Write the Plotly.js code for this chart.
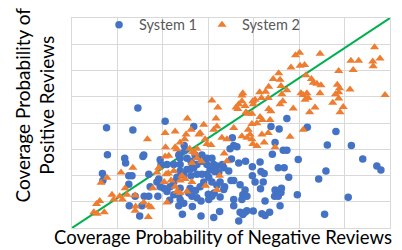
<!DOCTYPE html>
<html>
<head>
<meta charset="utf-8">
<script src="https://cdn.plot.ly/plotly-3.0.1.min.js"></script>
<style>
html,body{margin:0;padding:0;background:#fff;}
#chart{width:402px;height:250px;}
</style>
</head>
<body>
<div id="chart"></div>
<script>
// System 1 (blue circles)
const sys1X = [0.145,0.076,0.134,0.205,0.268,0.078,0.116,0.118,0.158,0.156,0.067,0.068,0.125,0.132,0.125,0.169,0.194,0.196,
0.473,0.518,0.581,0.562,0.615,0.640,0.671,0.680,0.543,0.559,0.498,0.608,0.556,0.496,0.477,0.438,0.456,0.447,0.441,0.465,0.473,
0.454,0.467,0.414,0.416,0.423,0.397,0.397,0.403,0.421,0.415,0.382,0.367,0.353,0.348,0.356,0.363,0.351,0.334,0.345,0.350,0.356,
0.370,0.381,0.376,0.385,0.374,0.356,0.356,0.370,0.381,0.385,0.376,0.367,0.399,0.418,0.425,0.435,0.425,0.446,0.454,0.460,0.447,
0.458,0.461,0.325,0.312,0.284,0.265,0.243,0.300,0.313,0.326,0.334,0.336,0.319,0.326,0.308,0.301,0.297,0.304,0.312,0.319,0.331,
0.323,0.314,0.297,0.286,0.275,0.268,0.262,0.253,0.238,0.238,0.246,0.262,0.275,0.286,0.290,0.282,0.272,0.260,0.257,0.264,0.275,
0.284,0.301,0.308,0.238,0.235,0.238,0.235,0.246,0.224,0.215,0.209,0.202,0.194,0.189,0.172,0.169,0.159,0.154,0.149,0.139,0.126,
0.231,0.224,0.216,0.247,0.249,0.238,0.235,0.238,0.253,0.262,0.271,0.286,0.297,0.308,0.224,0.209,0.191,0.187];
const sys1Y = [0.457,0.382,0.373,0.407,0.387,0.279,0.266,0.248,0.278,0.272,0.208,0.181,0.199,0.199,0.167,0.205,0.260,0.242,
0.417,0.384,0.368,0.316,0.314,0.263,0.236,0.221,0.187,0.217,0.261,0.117,0.052,0.127,0.193,0.387,0.377,0.326,0.281,0.296,0.296,
0.230,0.230,0.251,0.215,0.208,0.233,0.199,0.175,0.175,0.150,0.254,0.248,0.344,0.302,0.314,0.310,0.263,0.230,0.217,0.181,0.181,
0.165,0.145,0.127,0.121,0.109,0.109,0.085,0.060,0.060,0.066,0.051,0.027,0.065,0.054,0.048,0.060,0.103,0.121,0.121,0.135,0.145,
0.085,0.151,0.063,0.040,0.046,0.082,0.052,0.129,0.133,0.118,0.147,0.157,0.163,0.175,0.175,0.193,0.205,0.223,0.242,0.236,0.242,
0.211,0.215,0.242,0.254,0.242,0.230,0.227,0.223,0.242,0.217,0.202,0.199,0.205,0.205,0.175,0.157,0.143,0.151,0.133,0.121,0.115,
0.103,0.109,0.121,0.151,0.127,0.109,0.085,0.094,0.127,0.106,0.139,0.151,0.157,0.121,0.157,0.121,0.121,0.085,0.046,0.121,0.085,
0.193,0.175,0.157,0.314,0.296,0.284,0.278,0.266,0.266,0.254,0.278,0.278,0.266,0.266,0.242,0.242,0.187,0.175];

// System 2 (orange triangles)
const sys2X = [0.666,0.678,0.662,0.663,0.614,0.631,0.619,0.587,0.689,0.612,0.584,0.589,0.587,0.580,0.587,0.574,0.597,0.590,
0.546,0.501,0.492,0.482,0.502,0.512,0.515,0.527,0.531,0.539,0.548,0.546,0.517,0.509,0.504,0.513,0.520,0.535,0.523,0.509,0.480,
0.487,0.473,0.462,0.460,0.455,0.458,0.443,0.433,0.426,0.413,0.417,0.403,0.398,0.399,0.376,0.374,0.367,0.374,0.361,0.365,0.381,
0.383,0.387,0.396,0.414,0.419,0.407,0.396,0.388,0.392,0.385,0.396,0.398,0.407,0.418,0.423,0.432,0.436,0.433,0.438,0.458,0.464,
0.447,0.432,0.308,0.321,0.317,0.254,0.290,0.282,0.279,0.262,0.251,0.248,0.227,0.205,0.206,0.166,0.227,0.231,0.238,0.259,0.266,
0.275,0.293,0.297,0.306,0.312,0.319,0.330,0.341,0.356,0.374,0.335,0.341,0.325,0.319,0.294,0.264,0.253,0.231,0.238,0.227,0.238,
0.242,0.249,0.224,0.212,0.205,0.213,0.191,0.187,0.178,0.134,0.117,0.105,0.111,0.121,0.139,0.088,0.092,0.064,0.077,0.108,0.054,
0.061,0.048,0.055,0.071,0.140,0.139,0.158,0.169,0.174,0.168,0.209,0.203,0.271,0.264,0.275,0.285,0.207,0.218];
const sys2Y = [0.689,0.646,0.634,0.616,0.637,0.637,0.602,0.598,0.507,0.528,0.546,0.532,0.517,0.510,0.493,0.477,0.461,0.441,
0.664,0.668,0.658,0.611,0.618,0.621,0.582,0.568,0.553,0.550,0.544,0.513,0.513,0.507,0.513,0.489,0.495,0.459,0.441,0.374,0.348,
0.455,0.525,0.510,0.541,0.590,0.565,0.568,0.538,0.519,0.517,0.495,0.489,0.483,0.471,0.513,0.505,0.471,0.483,0.459,0.453,0.465,
0.441,0.435,0.435,0.423,0.411,0.399,0.396,0.374,0.356,0.344,0.338,0.320,0.312,0.356,0.326,0.362,0.411,0.453,0.445,0.471,0.483,
0.308,0.495,0.486,0.459,0.417,0.417,0.393,0.362,0.356,0.374,0.356,0.338,0.368,0.362,0.308,0.338,0.308,0.300,0.326,0.302,0.290,
0.302,0.338,0.320,0.316,0.374,0.387,0.344,0.338,0.381,0.350,0.284,0.254,0.199,0.145,0.161,0.175,0.139,0.139,0.133,0.157,0.181,
0.199,0.187,0.217,0.209,0.272,0.275,0.230,0.211,0.151,0.230,0.151,0.121,0.109,0.127,0.124,0.127,0.109,0.172,0.191,0.211,0.091,
0.103,0.060,0.054,0.060,0.082,0.066,0.097,0.085,0.079,0.042,0.097,0.175,0.284,0.248,0.266,0.254,0.205,0.181];

// Reference line
const refX = [0, 0.7];
const refY = [0, 0.8];

const seriesNames = ['System 1', 'System 2'];
const xTitle = 'Coverage Probability of Negative Reviews';
const yTitle = 'Coverage Probability of<br>Positive Reviews';

const font = 'Lato, "Open Sans", sans-serif';

const traces = [
  {x: refX, y: refY, mode: 'lines', line: {color: '#00B050', width: 2}, showlegend: false, hoverinfo: 'skip'},
  {x: sys1X, y: sys1Y, mode: 'markers', name: seriesNames[0], type: 'scatter',
   marker: {symbol: 'circle', size: 7.5, color: '#4472C4'}},
  {x: sys2X, y: sys2Y, mode: 'markers', name: seriesNames[1], type: 'scatter',
   marker: {symbol: 'triangle-up', size: 8, color: '#ED7D31'}}
];

const axisCommon = {
  showticklabels: false, ticks: '', showgrid: true, gridcolor: '#d9d9d9', gridwidth: 1,
  zeroline: false, showline: true, mirror: true, linecolor: '#d9d9d9', linewidth: 1, fixedrange: true
};

const layout = {
  width: 402, height: 250,
  margin: {l: 72, r: 12, t: 9, b: 22},
  paper_bgcolor: '#fff', plot_bgcolor: '#fff',
  font: {family: font, color: '#000'},
  showlegend: true,
  legend: {orientation: 'h', x: 0.085, xanchor: 'left', y: 0.968, yanchor: 'middle',
           bgcolor: 'rgba(0,0,0,0)', font: {size: 14.5, color: '#595959', family: font},
           itemwidth: 30, traceorder: 'normal'},
  xaxis: Object.assign({}, axisCommon, {range: [0, 0.7], dtick: 0.1}),
  yaxis: Object.assign({}, axisCommon, {range: [0, 0.8], dtick: 0.1}),
  annotations: [{
    text: xTitle, xref: 'paper', yref: 'paper',
    x: 0.474, y: -0.045, xanchor: 'center', yanchor: 'middle', showarrow: false,
    font: {size: 18.5, color: '#000', family: font}
  }, {
    text: yTitle, textangle: -90, xref: 'paper', yref: 'paper',
    x: -0.116, y: 0.584, xanchor: 'center', yanchor: 'middle', showarrow: false,
    font: {size: 19, color: '#000', family: font}
  }]
};

Plotly.newPlot('chart', traces, layout, {displayModeBar: false, staticPlot: true});
</script>
</body>
</html>
